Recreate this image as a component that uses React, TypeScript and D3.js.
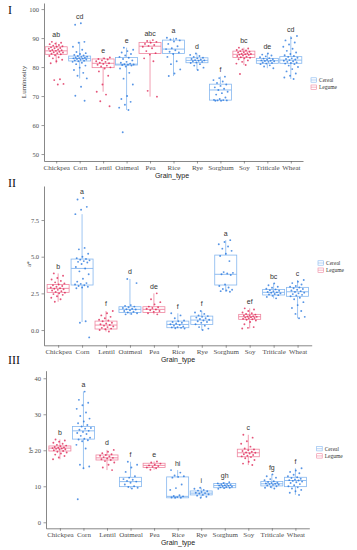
import React, { useRef, useEffect } from 'react';
import * as d3 from 'd3';

const grains = ['Chickpea', 'Corn', 'Lentil', 'Oatmeal', 'Pea', 'Rice', 'Rye', 'Sorghum', 'Soy', 'Triticale', 'Wheat'];
const grainGroup = ['Legume', 'Cereal', 'Legume', 'Cereal', 'Legume', 'Cereal', 'Cereal', 'Cereal', 'Legume', 'Cereal', 'Cereal'];
const groups = ['Cereal', 'Legume'];

// Panel I - Luminosity
const lumQ1 = [84.4, 82.1, 79.8, 80.7, 84.7, 84.7, 81.5, 68.6, 83.3, 81.3, 81.3];
const lumMed = [85.6, 83.0, 81.3, 81.0, 87.2, 86.2, 82.3, 72.1, 84.4, 82.2, 82.4];
const lumQ3 = [87.0, 83.8, 82.8, 83.3, 88.5, 89.3, 83.2, 74.1, 85.5, 83.0, 83.6];
const lumLo = [81.3, 76.1, 71.5, 65.2, 69.8, 76.9, 79.0, 68.4, 80.7, 79.6, 75.9];
const lumHi = [88.7, 88.7, 83.3, 86.7, 89.3, 90.1, 84.7, 76.7, 86.7, 84.7, 90.7];
const lumLetters = ['ab', 'cd', 'e', 'e', 'abc', 'a', 'd', 'f', 'bc', 'de', 'cd'];
const lumPoints = [
  [88.7, 88.4, 88.1, 87.9, 87.6, 87.4, 87.2, 87.0, 86.8, 86.6, 86.5, 86.3, 86.1, 85.9, 85.8, 85.6, 85.5, 85.3, 85.1, 85.0, 84.8, 84.6, 84.4, 84.1, 83.8, 83.4, 83.0, 82.5, 82.0, 81.3, 75.8, 75.5, 74.2, 74.0],
  [95.1, 94.6, 88.7, 88.4, 87.0, 86.0, 85.2, 84.8, 84.5, 84.2, 84.0, 83.8, 83.6, 83.5, 83.3, 83.2, 83.1, 83.0, 82.9, 82.8, 82.6, 82.5, 82.3, 82.2, 82.0, 81.8, 81.5, 81.0, 80.5, 79.8, 79.0, 78.0, 77.0, 76.1, 73.2, 70.1, 68.4],
  [83.3, 83.0, 82.8, 82.6, 82.3, 82.0, 81.8, 81.5, 81.3, 81.1, 80.8, 80.5, 80.2, 79.9, 79.5, 78.5, 77.0, 74.0, 71.5, 70.5, 68.2, 66.5],
  [86.7, 86.0, 85.5, 85.0, 84.5, 84.0, 83.5, 83.2, 82.8, 82.3, 81.8, 81.5, 81.2, 81.0, 80.9, 80.8, 80.7, 80.5, 80.2, 79.5, 78.0, 76.0, 74.0, 70.0, 69.0, 68.0, 67.0, 66.0, 65.2, 57.5],
  [89.3, 89.0, 88.7, 88.4, 88.0, 87.6, 87.3, 87.0, 86.5, 85.5, 84.8, 84.3, 83.0, 82.0, 71.8, 69.8],
  [90.1, 89.8, 89.5, 89.2, 88.8, 88.0, 87.2, 86.5, 86.2, 85.8, 85.3, 85.0, 84.5, 83.5, 82.0, 81.0, 79.2, 77.8, 76.9],
  [84.7, 84.2, 83.8, 83.5, 83.2, 83.0, 82.8, 82.6, 82.4, 82.3, 82.2, 82.0, 81.8, 81.6, 81.4, 81.0, 80.5, 79.8, 79.0],
  [76.7, 76.2, 75.5, 75.0, 74.5, 74.0, 73.5, 73.0, 72.5, 72.1, 71.5, 71.0, 70.5, 69.5, 69.0, 68.7, 68.6, 68.5, 68.5, 68.4, 68.4],
  [86.7, 86.4, 86.1, 85.9, 85.7, 85.5, 85.3, 85.1, 85.0, 84.8, 84.6, 84.5, 84.4, 84.3, 84.2, 84.0, 83.8, 83.6, 83.4, 83.2, 83.0, 82.7, 82.3, 81.8, 81.2, 80.7, 77.6],
  [84.7, 84.3, 84.0, 83.7, 83.4, 83.1, 82.9, 82.7, 82.5, 82.3, 82.2, 82.1, 82.0, 81.8, 81.6, 81.4, 81.2, 81.0, 80.6, 80.2, 79.6],
  [90.7, 90.0, 89.2, 88.5, 87.8, 87.0, 86.3, 85.6, 85.0, 84.5, 84.1, 83.8, 83.5, 83.2, 83.0, 82.8, 82.6, 82.4, 82.2, 82.0, 81.8, 81.6, 81.4, 81.2, 81.0, 80.5, 80.0, 79.3, 78.5, 77.8, 77.0, 76.4, 75.9],
];

// Panel II - a*
const aQ1 = [2.57, 3.07, 0.07, 1.2, 1.2, 0.16, 0.38, 3.07, 0.73, 2.39, 2.3];
const aMed = [2.84, 4.2, 0.34, 1.41, 1.41, 0.38, 0.68, 3.8, 0.91, 2.57, 2.61];
const aQ3 = [3.11, 4.84, 0.61, 1.59, 1.59, 0.61, 0.95, 5.11, 1.07, 2.77, 2.91];
const aLo = [1.93, 0.55, -0.1, 1.07, 1.07, 0.1, 0.0, 2.61, 0.11, 2.16, 0.8];
const aHi = [3.86, 7.9, 1.3, 3.48, 2.5, 1.14, 1.3, 6.13, 1.48, 3.18, 3.41];
const aLetters = ['b', 'a', 'f', 'd', 'de', 'f', 'f', 'a', 'ef', 'bc', 'c'];
const aPoints = [
  [3.86, 3.7, 3.55, 3.45, 3.35, 3.25, 3.18, 3.1, 3.05, 3.0, 2.95, 2.9, 2.85, 2.82, 2.78, 2.74, 2.7, 2.65, 2.6, 2.55, 2.5, 2.45, 2.4, 2.3, 2.2, 2.1, 1.93],
  [9.0, 8.9, 8.4, 8.2, 7.9, 5.6, 5.5, 5.2, 5.0, 4.9, 4.85, 4.8, 4.75, 4.7, 4.65, 4.6, 4.5, 4.3, 4.2, 4.0, 3.8, 3.5, 3.3, 3.2, 3.15, 3.1, 3.05, 3.0, 2.95, 2.9, 2.85, 0.6, 0.5, -0.5],
  [1.3, 1.15, 1.0, 0.9, 0.8, 0.7, 0.65, 0.6, 0.5, 0.45, 0.4, 0.35, 0.3, 0.25, 0.2, 0.15, 0.1, 0.05, 0.0, -0.1],
  [3.48, 3.2, 1.7, 1.65, 1.6, 1.55, 1.5, 1.45, 1.42, 1.4, 1.35, 1.3, 1.25, 1.2, 1.15, 1.1, 1.07],
  [2.5, 2.1, 1.9, 1.75, 1.6, 1.55, 1.5, 1.45, 1.4, 1.35, 1.3, 1.25, 1.15, 1.07],
  [1.14, 1.0, 0.8, 0.65, 0.6, 0.55, 0.5, 0.45, 0.4, 0.35, 0.3, 0.25, 0.2, 0.18, 0.15, 0.12, 0.1],
  [1.3, 1.2, 1.1, 1.0, 0.95, 0.9, 0.85, 0.8, 0.75, 0.7, 0.65, 0.6, 0.55, 0.5, 0.4, 0.3, 0.2, 0.1, 0.0],
  [6.13, 6.0, 5.85, 5.7, 5.55, 5.4, 5.2, 5.05, 4.7, 3.95, 3.9, 3.85, 3.8, 3.75, 3.1, 3.0, 2.9, 2.8, 2.75, 2.7, 2.65, 2.61],
  [1.48, 1.4, 1.3, 1.2, 1.15, 1.1, 1.05, 1.0, 0.98, 0.95, 0.92, 0.9, 0.88, 0.85, 0.82, 0.8, 0.77, 0.74, 0.7, 0.65, 0.55, 0.4, 0.2, 0.15, 0.11],
  [3.18, 3.05, 2.95, 2.88, 2.82, 2.77, 2.72, 2.68, 2.64, 2.6, 2.57, 2.54, 2.5, 2.46, 2.42, 2.38, 2.33, 2.26, 2.16],
  [3.41, 3.3, 3.2, 3.1, 3.0, 2.95, 2.9, 2.85, 2.8, 2.75, 2.7, 2.65, 2.6, 2.55, 2.5, 2.45, 2.4, 2.35, 2.3, 2.2, 2.1, 1.9, 1.7, 1.5, 1.3, 1.1, 0.9, 0.8],
];

// Panel III - b*
const bQ1 = [19.8, 23.1, 17.3, 9.9, 15.2, 6.8, 7.6, 9.6, 18.2, 10.1, 9.9];
const bMed = [20.6, 25.4, 17.9, 11.3, 15.8, 7.2, 8.1, 10.2, 19.3, 10.7, 11.6];
const bQ3 = [21.2, 26.6, 18.7, 12.5, 16.4, 12.6, 8.7, 10.8, 20.3, 11.3, 12.5];
const bLo = [17.5, 15.0, 14.5, 9.4, 14.6, 6.8, 6.8, 9.3, 15.9, 9.4, 7.6];
const bHi = [23.0, 36.3, 20.1, 16.8, 16.9, 14.5, 9.6, 11.1, 24.3, 13.3, 15.0];
const bLetters = ['b', 'a', 'd', 'f', 'e', 'hi', 'i', 'gh', 'c', 'fg', 'f'];
const bPoints = [
  [23.0, 22.7, 22.4, 22.1, 21.8, 21.5, 21.3, 21.1, 20.9, 20.8, 20.7, 20.6, 20.5, 20.4, 20.3, 20.2, 20.0, 19.8, 19.6, 19.4, 19.1, 18.8, 18.4, 18.0, 17.5],
  [36.3, 34.0, 33.2, 32.5, 31.5, 30.5, 29.5, 28.8, 28.0, 27.5, 27.0, 26.6, 26.2, 26.0, 25.7, 25.4, 25.1, 24.8, 24.5, 24.0, 23.5, 23.2, 23.0, 22.8, 22.5, 21.5, 20.5, 16.0, 15.5, 15.0, 6.4],
  [20.1, 19.6, 19.2, 18.9, 18.7, 18.5, 18.3, 18.1, 17.9, 17.7, 17.5, 17.3, 17.0, 16.6, 16.0, 15.2, 14.5],
  [16.8, 16.0, 15.2, 14.0, 12.8, 12.4, 12.0, 11.8, 11.5, 11.3, 11.0, 10.5, 10.0, 9.8, 9.6, 9.4],
  [16.9, 16.6, 16.3, 16.0, 15.8, 15.6, 15.4, 15.2, 15.0, 14.6],
  [14.5, 13.8, 13.0, 12.8, 12.6, 12.4, 10.5, 9.5, 9.0, 7.5, 7.3, 7.2, 7.0, 6.9, 6.8, 6.8],
  [9.6, 9.3, 9.0, 8.8, 8.6, 8.4, 8.2, 8.1, 8.0, 7.8, 7.6, 7.4, 7.1, 6.8],
  [11.1, 10.9, 10.8, 10.6, 10.5, 10.4, 10.3, 10.2, 10.1, 10.0, 9.9, 9.8, 9.7, 9.6, 9.5, 9.3],
  [24.3, 23.5, 22.5, 21.8, 21.0, 20.5, 20.2, 20.0, 19.8, 19.6, 19.4, 19.3, 19.1, 18.9, 18.7, 18.5, 18.3, 18.1, 17.8, 17.3, 16.8, 16.3, 15.9],
  [13.3, 12.8, 12.4, 12.0, 11.7, 11.4, 11.2, 11.0, 10.9, 10.8, 10.7, 10.6, 10.5, 10.4, 10.2, 10.0, 9.8, 9.6, 9.4],
  [15.0, 14.4, 14.0, 13.6, 13.2, 12.8, 12.5, 12.3, 12.1, 11.9, 11.7, 11.6, 11.5, 11.3, 11.1, 10.9, 10.6, 10.3, 10.0, 9.7, 9.4, 9.0, 8.6, 8.2, 7.6],
];

const boxColor = { Cereal: '#86b7ef', Legume: '#ef86a0' };
const pointColor = { Cereal: '#1f72dc', Legume: '#dc1c4e' };

const serif = '"Liberation Serif", "DejaVu Serif", serif';
const sans = '"Liberation Sans", Arial, sans-serif';

const panels = [
  {
    roman: 'I', romanX: 8, romanY: 14, x0: 44, x1: 303, yTop: 3, yBottom: 161, domain: [47.6, 102.1], pad: 0.52,
    ticks: [50, 60, 70, 80, 90, 100], fmt: d3.format('d'), yTitle: 'Luminosity', yTitleSize: 7, yTitleX: 24, yTitleY: 82,
    xTitleX: 172, xTitleY: 178, legX: 311, legY: 80,
    q1: lumQ1, med: lumMed, q3: lumQ3, lo: lumLo, hi: lumHi, letters: lumLetters, points: lumPoints,
  },
  {
    roman: 'II', romanX: 8, romanY: 187, x0: 44, x1: 311.7, yTop: 186, yBottom: 345.3, domain: [-1.04, 9.82], pad: 0.59,
    ticks: [0, 2.5, 5, 7.5], fmt: d3.format('.1f'), yTitle: 'a*', yTitleSize: 6, yTitleX: 29, yTitleY: 264,
    xTitleX: 178, xTitleY: 362, legX: 318, legY: 263,
    q1: aQ1, med: aMed, q3: aQ3, lo: aLo, hi: aHi, letters: aLetters, points: aPoints,
  },
  {
    roman: 'III', romanX: 8, romanY: 364, x0: 46, x1: 309.3, yTop: 370.7, yBottom: 528.3, domain: [-1.67, 42.1], pad: 0.59,
    ticks: [0, 10, 20, 30, 40], fmt: d3.format('d'), yTitle: 'b*', yTitleSize: 6, yTitleX: 30.5, yTitleY: 450,
    xTitleX: 178, xTitleY: 545, legX: 316.7, legY: 448.7,
    q1: bQ1, med: bMed, q3: bQ3, lo: bLo, hi: bHi, letters: bLetters, points: bPoints,
  },
];

function Panel({ p }: { p: any }) {
  const xAxisRef = useRef<SVGGElement>(null);
  const yAxisRef = useRef<SVGGElement>(null);

  const x = d3.scalePoint().domain(grains).range([p.x0, p.x1]).padding(p.pad);
  const y = d3.scaleLinear().domain(p.domain).range([p.yBottom, p.yTop]);
  const halfBox = 11;
  const jitter = 7.5;

  useEffect(() => {
    const xa = d3.select(xAxisRef.current);
    xa.selectAll('*').remove();
    xa.call(d3.axisBottom(x).tickSize(2.5).tickPadding(1.5).tickSizeOuter(0) as any);
    xa.selectAll('.tick text').style('font-size', '7px');
    const ya = d3.select(yAxisRef.current);
    ya.selectAll('*').remove();
    ya.call(d3.axisLeft(y).tickValues(p.ticks).tickFormat(p.fmt).tickSize(2.5).tickPadding(2.5).tickSizeOuter(0) as any);
    ya.selectAll('.tick text').style('font-size', '6.5px');
    [xa, ya].forEach((g) => {
      g.selectAll('.domain').attr('stroke', '#555').attr('stroke-width', 0.7);
      g.selectAll('.tick line').attr('stroke', '#555').attr('stroke-width', 0.6);
      g.selectAll('.tick text').attr('fill', '#4d4d4d').style('font-family', serif);
    });
  }, []);

  return (
    <g>
      <text x={p.romanX} y={p.romanY} fontFamily={serif} fontSize={12} fill="#111">{p.roman}</text>
      <g ref={yAxisRef} transform={`translate(${p.x0},0)`} />
      <g ref={xAxisRef} transform={`translate(0,${p.yBottom})`} />
      {grains.map((g, i) => {
        const grp = grainGroup[i];
        const cx = x(g) as number;
        const pts: number[] = p.points[i];
        const top = Math.max(p.hi[i], d3.max(pts) as number);
        return (
          <g key={g}>
            <line x1={cx} x2={cx} y1={y(p.q3[i])} y2={y(p.hi[i])} stroke={boxColor[grp]} strokeWidth={0.8} />
            <line x1={cx} x2={cx} y1={y(p.q1[i])} y2={y(p.lo[i])} stroke={boxColor[grp]} strokeWidth={0.8} />
            <rect x={cx - halfBox} width={halfBox * 2} y={y(p.q3[i])} height={Math.max(0.5, y(p.q1[i]) - y(p.q3[i]))}
              fill="white" stroke={boxColor[grp]} strokeWidth={0.8} />
            <line x1={cx - halfBox} x2={cx + halfBox} y1={y(p.med[i])} y2={y(p.med[i])} stroke={boxColor[grp]} strokeWidth={0.9} />
            {pts.map((v, j) => {
              const f = ((j * 0.618034 + i * 0.37 + 0.21) % 1) - 0.5;
              return <circle key={j} cx={cx + f * 2 * jitter} cy={y(v)} r={0.95} fill={pointColor[grp]} fillOpacity={0.75} />;
            })}
            <text x={cx} y={y(top) - 4.5} textAnchor="middle" fontFamily={sans} fontSize={7} fill="#333">{p.letters[i]}</text>
          </g>
        );
      })}
      <text transform={`translate(${p.yTitleX},${p.yTitleY}) rotate(-90)`} textAnchor="middle" dominantBaseline="central"
        fontFamily={serif} fontSize={p.yTitleSize} fill="#333">{p.yTitle}</text>
      <text x={p.xTitleX} y={p.xTitleY} textAnchor="middle" fontFamily={sans} fontSize={7} fill="#222">Grain_type</text>
      {groups.map((grp, k) => {
        const ly = p.legY + k * 7.2;
        return (
          <g key={grp}>
            <rect x={p.legX} y={ly - 2.2} width={5.5} height={4.4} fill="white" stroke={boxColor[grp]} strokeWidth={0.6} />
            <line x1={p.legX} x2={p.legX + 5.5} y1={ly} y2={ly} stroke={boxColor[grp]} strokeWidth={0.6} />
            <text x={p.legX + 8} y={ly} dominantBaseline="central" fontFamily={serif} fontSize={5.5} fill="#333">{grp}</text>
          </g>
        );
      })}
    </g>
  );
}

export default function App() {
  return (
    <svg width={357} height={550} style={{ position: 'absolute', left: 0, top: 0, background: 'white' }}>
      {panels.map((p) => <Panel key={p.roman} p={p} />)}
    </svg>
  );
}
